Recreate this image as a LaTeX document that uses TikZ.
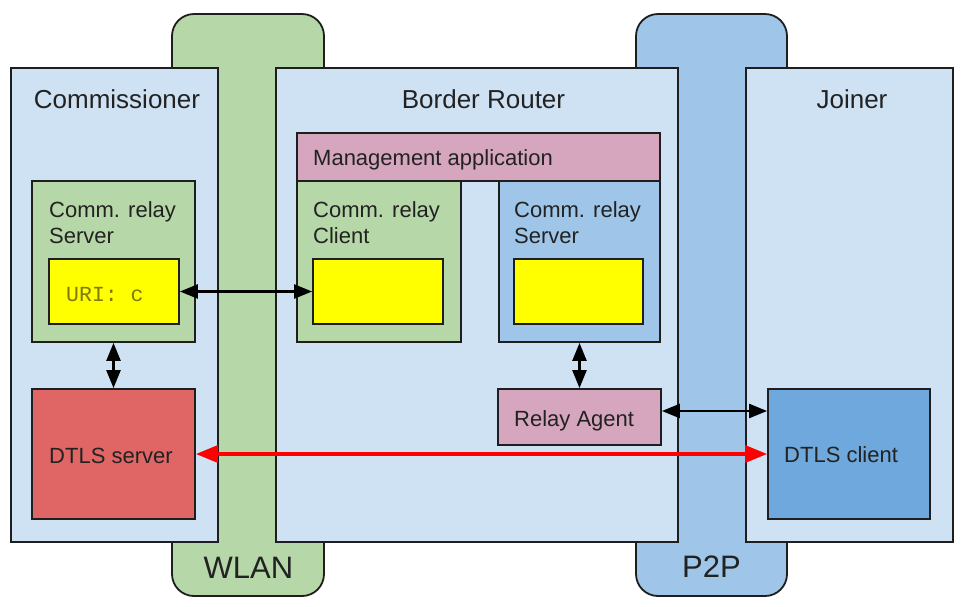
\documentclass[tikz,border=0pt]{standalone}
\usepackage{fontspec}
\setmainfont{Liberation Sans}
\newfontfamily\urifont{Liberation Mono}
\usetikzlibrary{arrows.meta}
\definecolor{lblue}{HTML}{CFE2F3}
\definecolor{lgreen}{HTML}{B6D7A8}
\definecolor{mblue}{HTML}{9FC5E8}
\definecolor{lpink}{HTML}{D5A6BD}
\definecolor{dred}{HTML}{E06666}
\definecolor{dblue}{HTML}{6FA8DC}
\definecolor{edge}{HTML}{1E1E1E}
\definecolor{olive}{HTML}{7F7A00}
\definecolor{txt}{HTML}{222222}
\definecolor{pyellow}{HTML}{FFFF00}
\tikzset{
  box/.style={draw=edge, line width=1.8pt, rectangle, inner sep=0pt},
  band/.style={box, rounded corners=22pt},
  title/.style={inner sep=0pt, anchor=base, text=txt, font=\fontsize{26}{30}\selectfont},
  bandtxt/.style={inner sep=0pt, anchor=base, text=txt, font=\fontsize{31}{36}\selectfont},
  lbl/.style={inner sep=0pt, anchor=base west, text=txt, font=\fontsize{22}{27}\selectfont},
  arr/.style={line width=2.4pt, draw=black, {Triangle[length=18pt,width=14pt]}-{Triangle[length=18pt,width=14pt]}},
  redarr/.style={line width=3.4pt, draw=red, {Triangle[length=22pt,width=17pt]}-{Triangle[length=22pt,width=17pt]}}
}
\begin{document}
\begin{tikzpicture}[x=1pt,y=-1pt]
\useasboundingbox (0,0) rectangle (970,606);
\fill[white] (0,0) rectangle (970,606);
% bands
\node[band, fill=lgreen, minimum width=152pt, minimum height=582pt] (wlan) at (248,305) {};
\node[band, fill=mblue, minimum width=151pt, minimum height=582pt] (p2p) at (711.5,305) {};
% devices
\node[box, fill=lblue, minimum width=207pt, minimum height=474pt] (comm) at (114.5,305) {};
\node[box, fill=lblue, minimum width=402pt, minimum height=474pt] (br) at (477,305) {};
\node[box, fill=lblue, minimum width=207pt, minimum height=474pt] (joiner) at (849.5,305) {};
% inner boxes
\node[box, fill=lpink, minimum width=363pt, minimum height=48pt] (mgmt) at (478.5,157) {};
\node[box, fill=lgreen, minimum width=163pt, minimum height=161pt] (lsrv) at (113.5,261.5) {};
\node[box, fill=pyellow, minimum width=130pt, minimum height=65pt] (uri) at (114,291.5) {};
\node[box, fill=lgreen, minimum width=164pt, minimum height=161pt] (cli) at (379,261.5) {};
\node[box, fill=pyellow, minimum width=130pt, minimum height=65pt] (cliy) at (378,291.5) {};
\node[box, fill=mblue, minimum width=161pt, minimum height=161pt] (rsrv) at (579.5,261.5) {};
\node[box, fill=pyellow, minimum width=129pt, minimum height=65pt] (rsrvy) at (578.5,291.5) {};
\node[box, fill=dred, minimum width=163pt, minimum height=130pt] (dtlss) at (113.5,454) {};
\node[box, fill=lpink, minimum width=163pt, minimum height=56pt] (relay) at (579.5,417) {};
\node[box, fill=dblue, minimum width=162pt, minimum height=130pt] (dtlsc) at (849,454) {};
% texts
\node[title] (tcomm) at (117,108) {Commissioner};
\node[title] (tbr) at (483.5,108) {Border Router};
\node[title] (tjoin) at (852,108) {Joiner};
\node[bandtxt] (twlan) at (248.5,578) {WLAN};
\node[bandtxt] (tp2p) at (711.5,577) {P2P};
\node[lbl] (tmgmt) at (313,165) {Management application};
\node[lbl] (tls1) at (49,217) {Comm. relay};
\node[lbl] (tls2) at (49,243) {Server};
\node[lbl] (tcl1) at (313,217) {Comm. relay};
\node[lbl] (tcl2) at (313,243) {Client};
\node[lbl] (trs1) at (514,217) {Comm. relay};
\node[lbl] (trs2) at (514,243) {Server};
\node[lbl] (tds) at (49,463) {DTLS server};
\node[lbl] (tra) at (514,426) {Relay Agent};
\node[lbl] (tdc) at (784,462) {DTLS client};
\node[inner sep=0pt, anchor=base west, text=olive, font=\urifont\fontsize{21.5}{26}\selectfont] (turi) at (66,301) {URI: c};
% connectors
\draw[arr] (uri.east) -- (cliy.west);
\draw[arr] (lsrv.south) -- (dtlss.north);
\draw[arr] (rsrv.south) -- (relay.north);
\draw[arr] ([yshift=6pt]relay.east) -- ([yshift=6pt]relay.east -| dtlsc.west);
\draw[redarr] (dtlss.east) -- (dtlsc.west);
\end{tikzpicture}
\end{document}
